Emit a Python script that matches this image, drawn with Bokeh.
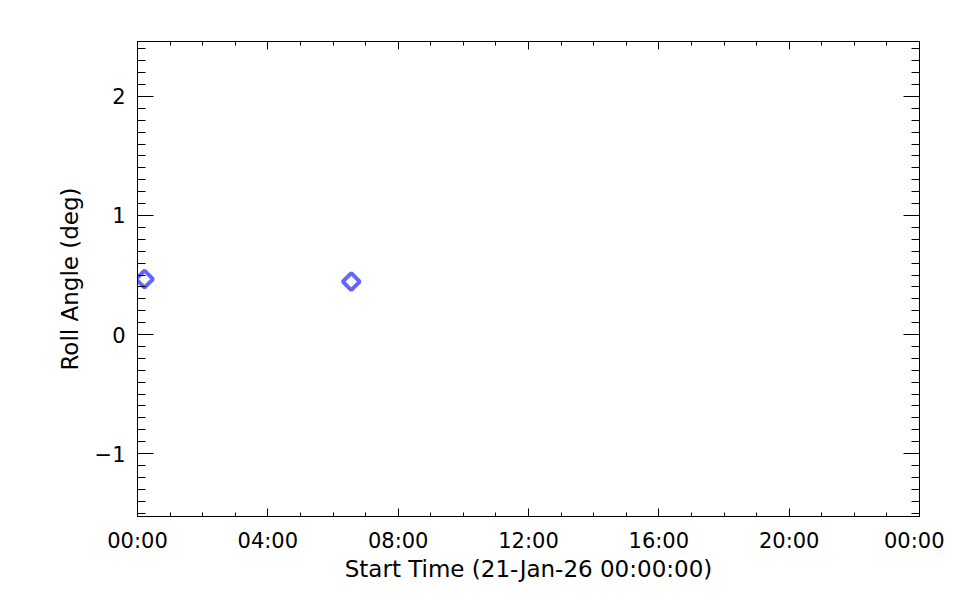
import math
from bokeh.plotting import figure
from bokeh.models import LinearAxis, SingleIntervalTicker, Range1d, CustomLabelingPolicy
from bokeh.embed import file_html
from bokeh.resources import INLINE

# data: hours after 21-Jan-26 00:00:00
start_hours = [0.215, 6.56]
roll_deg = [0.466, 0.444]

x_tick_hours = [0, 4, 8, 12, 16, 20, 24]
x_tick_labels = ["00:00", "04:00", "08:00", "12:00", "16:00", "20:00", "00:00"]
y_tick_values = [-1, 0, 1, 2]
y_tick_labels = ["\u22121", "0", "1", "2"]

FONT = "DejaVu Sans"
FS = "21px"
FS_TITLE = "23px"

p = figure(width=944, height=584, output_backend="svg", toolbar_location=None,
           x_range=Range1d(0, 24), y_range=Range1d(-1.528, 2.461),
           x_axis_location=None, y_axis_location=None,
           min_border_left=137, min_border_right=25, min_border_top=41, min_border_bottom=67)
p.grid.visible = False
p.outline_line_color = "black"
p.outline_line_width = 1
p.background_fill_color = "white"
p.border_fill_color = "white"

no_labels = CustomLabelingPolicy(code="return new Set()")


def mk_x(show):
    ax = LinearAxis(ticker=SingleIntervalTicker(interval=4, num_minor_ticks=4))
    ax.major_tick_in = 8
    ax.major_tick_out = 0
    ax.minor_tick_in = 4
    ax.minor_tick_out = 0
    ax.axis_line_color = "black"
    ax.major_tick_line_color = "black"
    ax.minor_tick_line_color = "black"
    if show:
        ax.major_label_overrides = {h: l for h, l in zip(x_tick_hours, x_tick_labels)}
        ax.major_label_text_font = FONT
        ax.major_label_text_font_size = FS
        ax.major_label_text_color = "black"
        ax.major_label_standoff = 12
        ax.axis_label = "Start Time (21-Jan-26 00:00:00)"
        ax.axis_label_text_font = FONT
        ax.axis_label_text_font_size = FS_TITLE
        ax.axis_label_text_font_style = "normal"
        ax.axis_label_text_color = "black"
        ax.axis_label_standoff = 0
    else:
        ax.major_label_policy = no_labels
        ax.major_label_standoff = 0
    return ax


def mk_y(show):
    ax = LinearAxis(ticker=SingleIntervalTicker(interval=1, num_minor_ticks=10))
    ax.major_tick_in = 16
    ax.major_tick_out = 0
    ax.minor_tick_in = 8
    ax.minor_tick_out = 0
    ax.axis_line_color = "black"
    ax.major_tick_line_color = "black"
    ax.minor_tick_line_color = "black"
    if show:
        ax.major_label_overrides = {v: l for v, l in zip(y_tick_values, y_tick_labels)}
        ax.major_label_text_font = FONT
        ax.major_label_text_font_size = FS
        ax.major_label_text_color = "black"
        ax.major_label_standoff = 12
        ax.axis_label = "Roll Angle (deg)"
        ax.axis_label_text_font = FONT
        ax.axis_label_text_font_size = FS_TITLE
        ax.axis_label_text_font_style = "normal"
        ax.axis_label_text_color = "black"
        ax.axis_label_standoff = 9
    else:
        ax.major_label_policy = no_labels
        ax.major_label_standoff = 0
    return ax


p.add_layout(mk_x(True), "below")
p.add_layout(mk_x(False), "above")
p.add_layout(mk_y(True), "left")
p.add_layout(mk_y(False), "right")

p.scatter(start_hours, roll_deg, marker="square", size=12, angle=math.pi / 4,
          fill_color="white", line_color="#6464ff", line_width=4)

open("out.html", "w").write(file_html(p, INLINE))
